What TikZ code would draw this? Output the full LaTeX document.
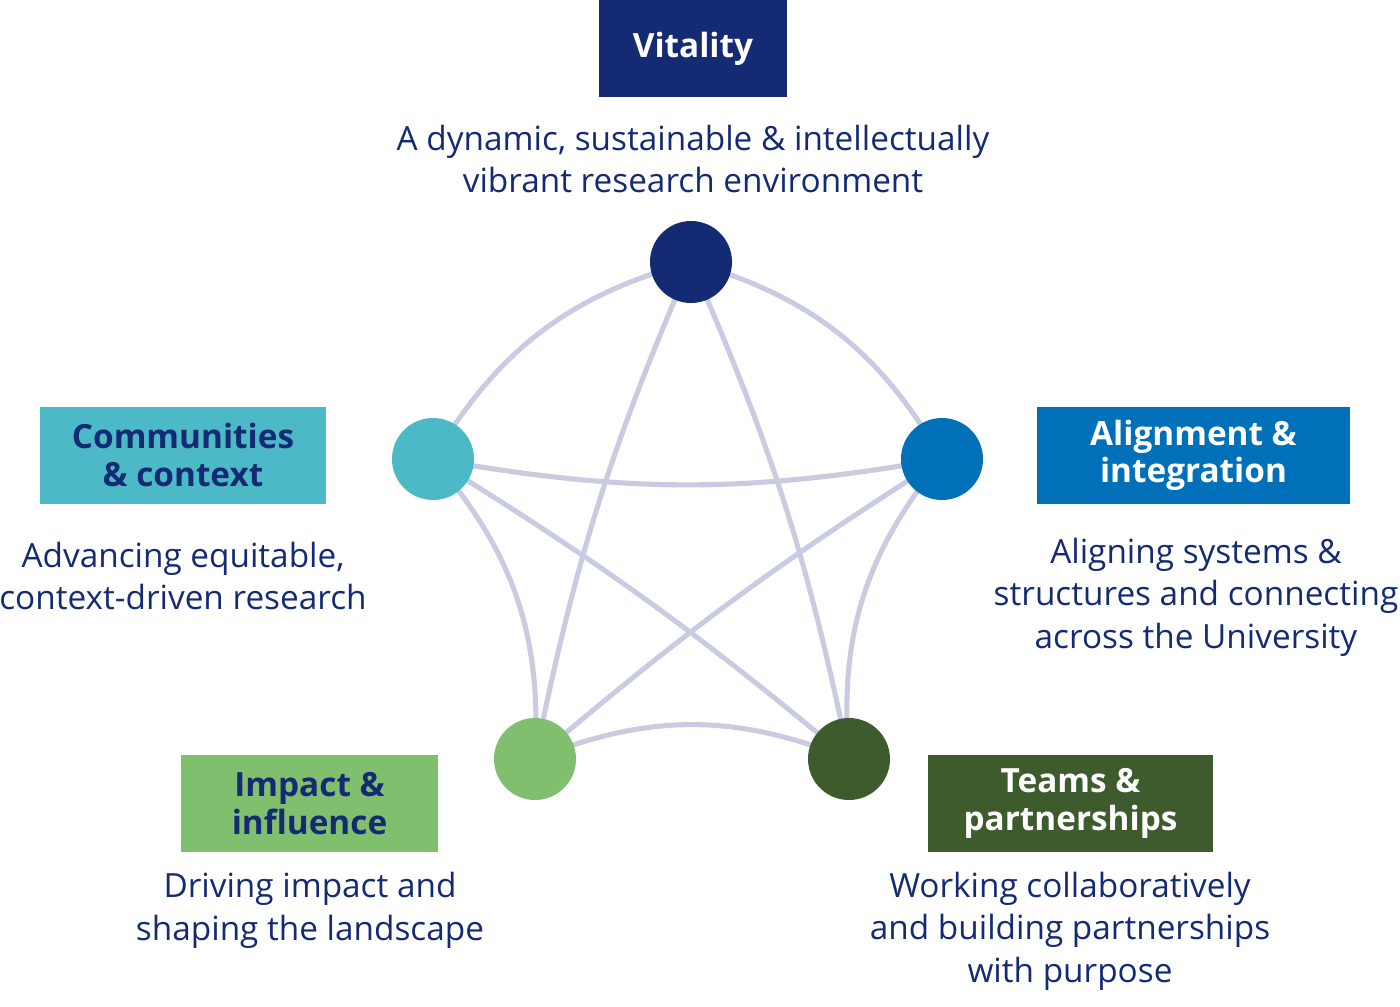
\documentclass[tikz,border=0pt]{standalone}
\usepackage{fontspec}
\setmainfont{Open Sans}
\begin{document}
\begin{tikzpicture}[x=0.75pt,y=-0.75pt,
 dot/.style={circle,minimum size=82*0.75pt,inner sep=0pt},
 box/.style={minimum height=97*0.75pt,inner sep=0pt,align=center,font=\fontsize{25}{28}\selectfont\bfseries},
 desc/.style={align=center,text=navy,font=\fontsize{25}{32}\selectfont},
 ed/.style={draw=edgec,line width=3.8pt}]
\definecolor{navy}{HTML}{142A73}
\definecolor{teal}{HTML}{4CBAC6}
\definecolor{blu}{HTML}{0070B9}
\definecolor{lgreen}{HTML}{80BF6E}
\definecolor{dgreen}{HTML}{3D5B2C}
\definecolor{edgec}{HTML}{C9CBE1}
\useasboundingbox (0,0) rectangle (1400,1007);
\coordinate (T) at (691,262);
\coordinate (L) at (433,459);
\coordinate (R) at (942,459);
\coordinate (BL) at (535,759);
\coordinate (BR) at (849,759);
\draw[ed] (T) to[bend right=22] (L);
\draw[ed] (T) to[bend left=22] (R);
\draw[ed] (L) to[bend left=22] (BL);
\draw[ed] (R) to[bend right=22] (BR);
\draw[ed] (BL) to[bend left=22] (BR);
\draw[ed] (L) to[bend right=10] (R);
\draw[ed] (T) to[bend right=6] (BL);
\draw[ed] (T) to[bend left=6] (BR);
\draw[ed] (L) to[bend left=4] (BR);
\draw[ed] (R) to[bend right=4] (BL);
\node[dot,fill=navy] (t) at (T) {};
\node[dot,fill=teal] (l) at (L) {};
\node[dot,fill=blu] (r) at (R) {};
\node[dot,fill=lgreen] (bl) at (BL) {};
\node[dot,fill=dgreen] (br) at (BR) {};
\node[box,fill=navy,text=white,minimum width=188*0.75pt] (vb) at (693,48.5) {Vitality};
\node[desc] (vd) at (693,159) {A dynamic, sustainable \& intellectually\\vibrant research environment};
\node[box,fill=teal,text=navy,minimum width=286*0.75pt] (cb) at (183,455) {Communities\\\& context};
\node[desc] (cd) at (183,576) {Advancing equitable,\\context-driven research};
\node[box,fill=blu,text=white,minimum width=313*0.75pt] (ab) at (1193.5,455) {Alignment \&\\integration};
\node[desc] (ad) at (1196,597) {Aligning systems \&\\structures and connecting\\across the University};
\node[box,fill=lgreen,text=navy,minimum width=257*0.75pt] (ib) at (309.5,803.5) {Impact \&\\influence};
\node[desc] (id) at (310,910) {Driving impact and\\shaping the landscape};
\node[box,fill=dgreen,text=white,minimum width=285*0.75pt] (tb) at (1070.5,803.5) {Teams \&\\partnerships};
\node[desc] (td) at (1070,931) {Working collaboratively\\and building partnerships\\with purpose};
\end{tikzpicture}
\end{document}
